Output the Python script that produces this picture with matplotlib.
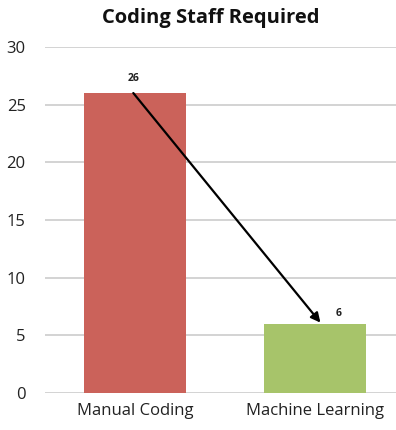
import matplotlib
matplotlib.use("Agg")
import matplotlib.pyplot as plt

categories = ["Manual Coding", "Machine Learning"]
values = [26, 6]
colors = ["#CB625A", "#A7C46A"]
yticks = [0, 5, 10, 15, 20, 25, 30]

plt.rcParams["font.family"] = ["Open Sans", "DejaVu Sans"]

fig = plt.figure(figsize=(3.96, 4.30), dpi=100)
ax = fig.add_axes([0.114, 0.086, 0.886, 0.805])

x = list(range(len(categories)))
ax.bar(x, values, width=0.57, color=colors, zorder=2)

# value labels: the second sits beside the arrow head
label_dx = [-0.01, 0.13]
label_dy = [0.75, 0.45]
for xi, v, dx, dy in zip(x, values, label_dx, label_dy):
    ax.text(xi + dx, v + dy, str(v), ha="center", va="bottom",
            fontsize=7.5, fontweight="bold", color="#222222", zorder=4)

# arrow from the first bar top to the second bar top
ax.annotate("", xy=(x[1] + 0.03, values[1] + 0.1), xytext=(x[0] - 0.01, values[0]),
            arrowprops=dict(arrowstyle="-|>", color="black", lw=1.6,
                            mutation_scale=14, shrinkA=0, shrinkB=0),
            zorder=5)

ax.set_xlim(-0.5, 1.45)
ax.set_ylim(0, 30)
ax.set_yticks(yticks)
ax.set_xticks(x)
ax.set_xticklabels(categories, fontsize=12, color="#222222")
ax.tick_params(axis="y", labelsize=12, colors="#222222", length=0, pad=14)
ax.tick_params(axis="x", length=0, pad=7)
ax.yaxis.grid(True, color="#cccccc", lw=1.2, zorder=0)
for s in ax.spines.values():
    s.set_visible(False)

fig.text(0.533, 0.957, "Coding Staff Required", ha="center", va="center",
         fontsize=14.5, fontweight="bold", color="#111111")

fig.savefig("out.png", dpi=100)
